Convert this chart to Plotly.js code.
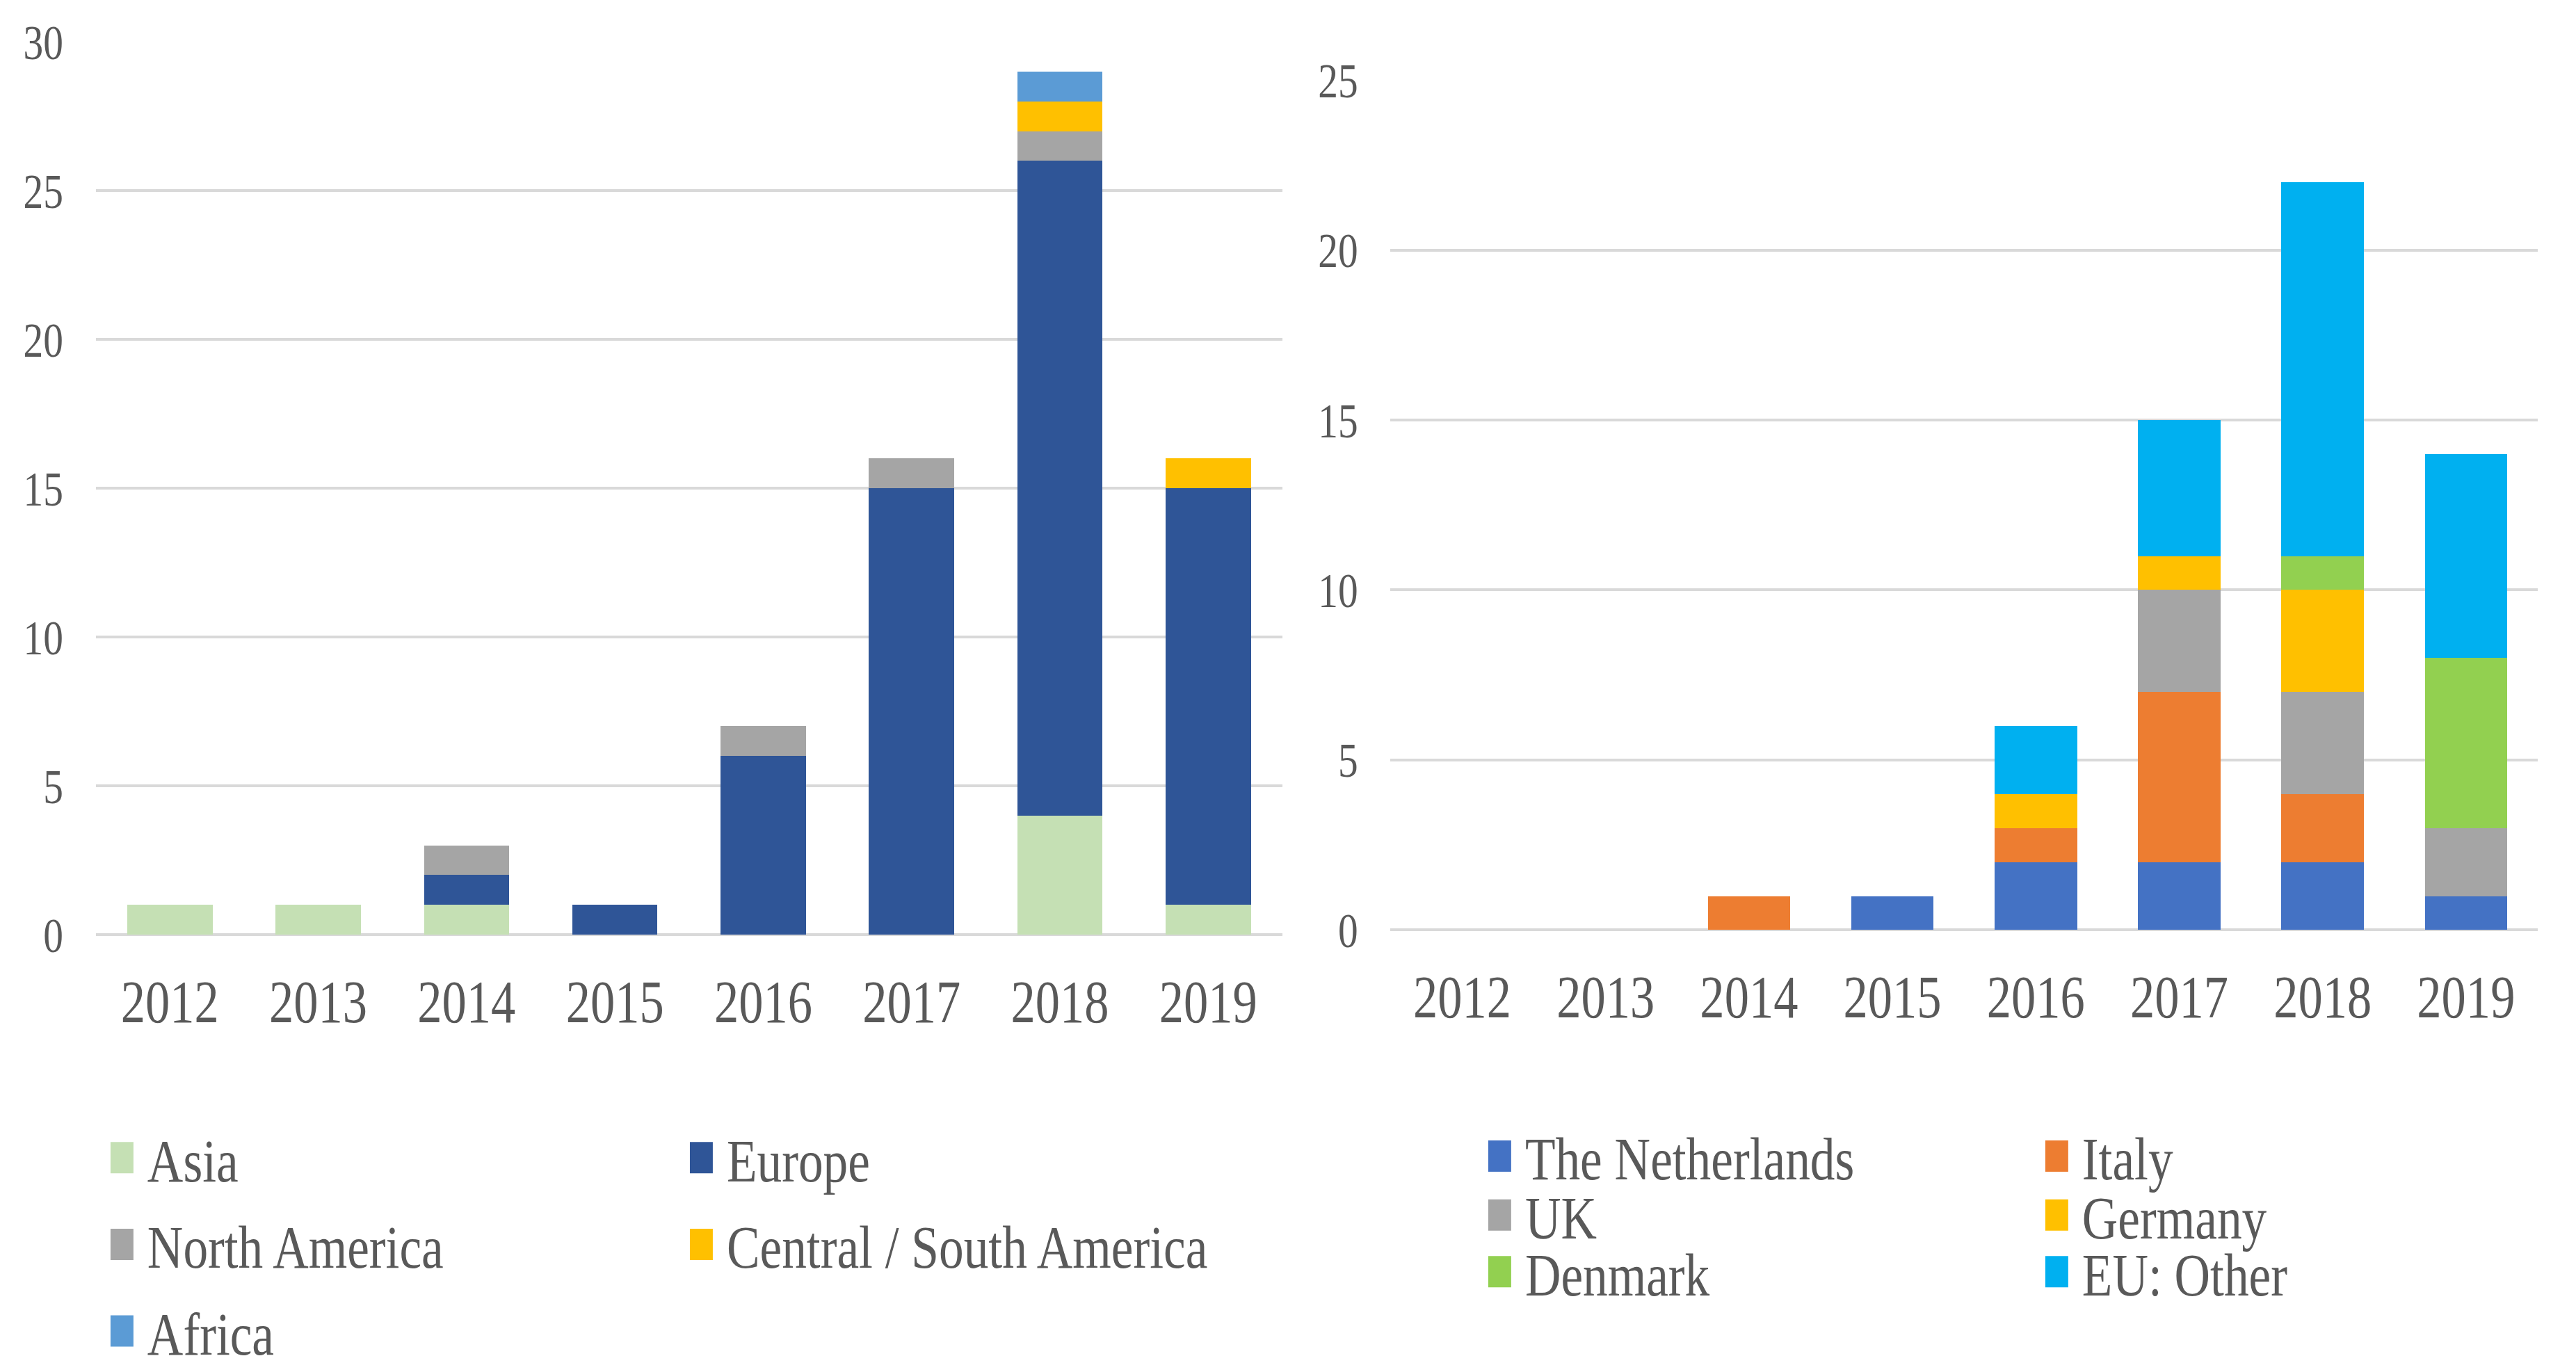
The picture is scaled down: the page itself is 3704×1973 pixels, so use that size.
<!DOCTYPE html>
<html>
<head>
<meta charset="utf-8">
<script src="https://cdn.plot.ly/plotly-3.0.1.min.js"></script>
<style>
  html, body { margin: 0; padding: 0; overflow: hidden; background: #ffffff; }
  #wrap { width: 3704px; height: 1973px; overflow: hidden; position: relative; }
  #chart { width: 4517px; height: 1973px; transform: scaleX(0.82); transform-origin: 0 0; }
</style>
</head>
<body>
<div id="wrap"><div id="chart"></div></div>
<script>
// ---- data ----
const years = ['2012', '2013', '2014', '2015', '2016', '2017', '2018', '2019'];

// Left panel: by region
const asia          = [1, 1, 1, 0, 0, 0, 4, 1];
const europe        = [0, 0, 1, 1, 6, 15, 22, 14];
const northAmerica  = [0, 0, 1, 0, 1, 1, 1, 0];
const centralSouthAmerica = [0, 0, 0, 0, 0, 0, 1, 1];
const africa        = [0, 0, 0, 0, 0, 0, 1, 0];

// Right panel: Europe by country
const netherlands   = [0, 0, 0, 1, 2, 2, 2, 1];
const italy         = [0, 0, 1, 0, 1, 5, 2, 0];
const uk            = [0, 0, 0, 0, 0, 3, 3, 2];
const germany       = [0, 0, 0, 0, 1, 1, 3, 0];
const denmark       = [0, 0, 0, 0, 0, 0, 1, 5];
const euOther       = [0, 0, 0, 0, 2, 4, 11, 6];

const leftTicks  = [0, 5, 10, 15, 20, 25, 30];
const rightTicks = [0, 5, 10, 15, 20, 25];

// ---- styling ----
const FONT = '"Liberation Serif", "Times New Roman", serif';
const TXT = '#595959';
const GRID = '#D9D9D9';

function bar(name, y, color, xa, ya, legendId) {
  return {
    type: 'bar', name: name, x: years, y: y,
    xaxis: xa, yaxis: ya, legend: legendId,
    marker: { color: color, line: { width: 0 } },
    hoverinfo: 'skip'
  };
}

const traces = [
  bar('Asia', asia, '#C5E0B4', 'x', 'y', 'legend'),
  bar('Europe', europe, '#2F5597', 'x', 'y', 'legend2'),
  bar('North America', northAmerica, '#A5A5A5', 'x', 'y', 'legend3'),
  bar('Central / South America', centralSouthAmerica, '#FFC000', 'x', 'y', 'legend4'),
  bar('Africa', africa, '#5B9BD5', 'x', 'y', 'legend5'),
  bar('The Netherlands', netherlands, '#4472C4', 'x2', 'y2', 'legend6'),
  bar('Italy', italy, '#ED7D31', 'x2', 'y2', 'legend7'),
  bar('UK', uk, '#A5A5A5', 'x2', 'y2', 'legend8'),
  bar('Germany', germany, '#FFC000', 'x2', 'y2', 'legend9'),
  bar('Denmark', denmark, '#92D050', 'x2', 'y2', 'legend10'),
  bar('EU: Other', euOther, '#00B0F0', 'x2', 'y2', 'legend11')
];

function legendAt(x, y) {
  return {
    x: x, y: y, xanchor: 'left', yanchor: 'middle',
    xref: 'paper', yref: 'paper',
    orientation: 'v', bgcolor: 'rgba(0,0,0,0)', borderwidth: 0,
    itemwidth: 79,
    font: { family: FONT, size: 87, color: TXT }
  };
}

const xCommon = {
  type: 'category', showgrid: false, zeroline: false, showline: false,
  ticks: '', ticklabelstandoff: 39,
  tickfont: { family: FONT, size: 86, color: TXT },
  fixedrange: true
};
const yCommon = {
  showgrid: true, gridcolor: GRID, gridwidth: 4,
  zeroline: true, zerolinecolor: GRID, zerolinewidth: 4,
  showline: false, ticks: '', ticklabelstandoff: 56,
  tickfont: { family: FONT, size: 70, color: TXT },
  tickmode: 'array', fixedrange: true
};

const layout = {
  width: 4517, height: 1973,
  margin: { l: 0, r: 0, t: 0, b: 0, pad: 0, autoexpand: false },
  paper_bgcolor: '#ffffff', plot_bgcolor: '#ffffff',
  font: { family: FONT, color: TXT },
  barmode: 'stack', bargap: 0.425,
  hovermode: false,
  xaxis:  Object.assign({}, xCommon, { domain: [0.03715, 0.49784], anchor: 'y' }),
  yaxis:  Object.assign({}, yCommon, { domain: [0.31880, 0.96944], anchor: 'x', range: [0, 30],
           tickvals: leftTicks, ticktext: leftTicks.map(String) }),
  xaxis2: Object.assign({}, xCommon, { domain: [0.53980, 0.98516], anchor: 'y2' }),
  yaxis2: Object.assign({}, yCommon, { domain: [0.32210, 0.94171], anchor: 'x2', range: [0, 25],
           tickvals: rightTicks, ticktext: rightTicks.map(String) }),
  legend:   legendAt(0.03750, 0.1560),
  legend2:  legendAt(0.26241, 0.1560),
  legend3:  legendAt(0.03750, 0.0928),
  legend4:  legendAt(0.26241, 0.0928),
  legend5:  legendAt(0.03750, 0.0297),
  legend6:  legendAt(0.57234, 0.1572),
  legend7:  legendAt(0.78859, 0.1572),
  legend8:  legendAt(0.57234, 0.1142),
  legend9:  legendAt(0.78859, 0.1142),
  legend10: legendAt(0.57234, 0.0729),
  legend11: legendAt(0.78859, 0.0729),
  showlegend: true
};

Plotly.newPlot('chart', traces, layout, { staticPlot: true, displayModeBar: false, responsive: false })
  .then(function (gd) {
    // enlarge legend swatches to match the reference's square keys
    gd.querySelectorAll('.legendpoints path').forEach(function (p) {
      const t = p.getAttribute('transform') || '';
      p.setAttribute('transform', t + ' scale(3.35,3.75)');
    });
  });
</script>
</body>
</html>
